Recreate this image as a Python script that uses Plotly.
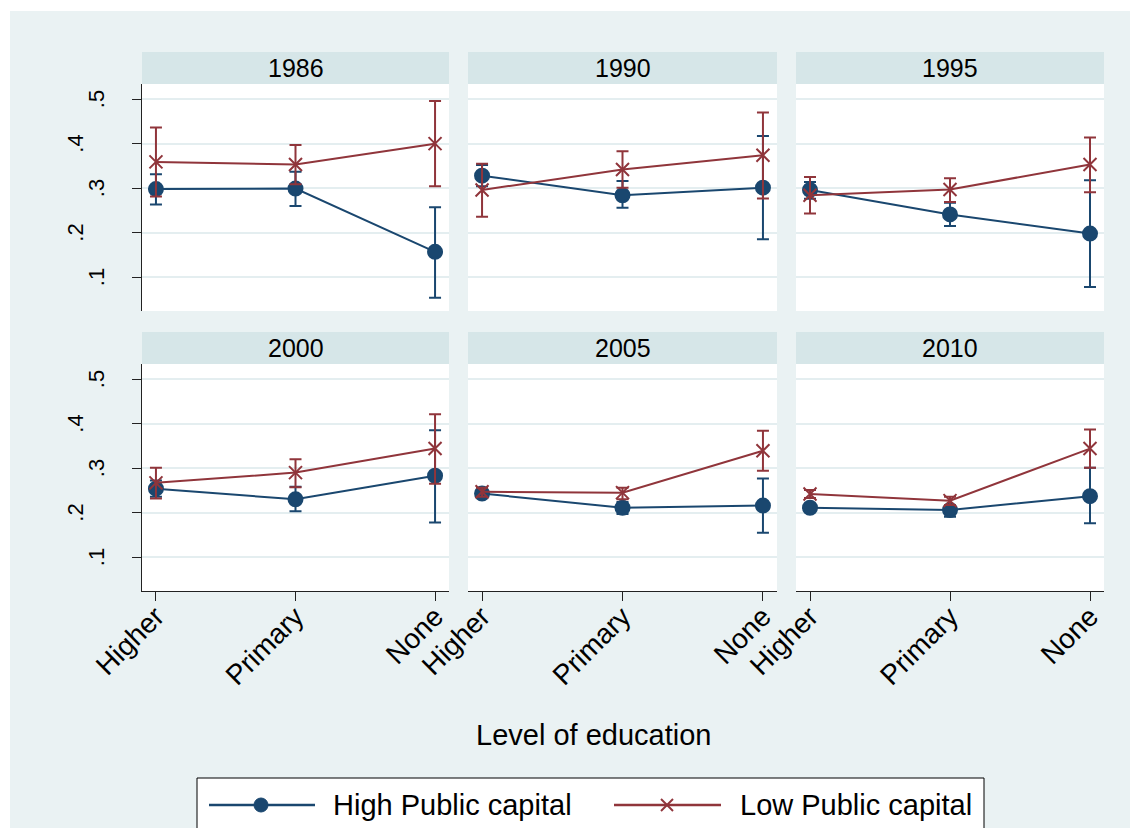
import plotly.graph_objects as go

# ---------------- data ----------------
years = ["1986", "1990", "1995", "2000", "2005", "2010"]
education = ["Higher", "Primary", "None"]
x_pos = [0, 1, 2]

high_mean = [[0.298, 0.299, 0.157], [0.328, 0.284, 0.301], [0.296, 0.241, 0.198],
             [0.254, 0.230, 0.283], [0.243, 0.211, 0.216], [0.211, 0.206, 0.237]]
high_lo = [[0.263, 0.260, 0.054], [0.304, 0.256, 0.185], [0.276, 0.215, 0.078],
           [0.236, 0.203, 0.178], [0.234, 0.197, 0.155], [0.202, 0.191, 0.176]]
high_hi = [[0.331, 0.337, 0.257], [0.352, 0.316, 0.417], [0.314, 0.267, 0.318],
           [0.272, 0.258, 0.385], [0.251, 0.224, 0.277], [0.218, 0.215, 0.301]]

low_mean = [[0.359, 0.353, 0.400], [0.296, 0.342, 0.374], [0.284, 0.297, 0.353],
            [0.267, 0.290, 0.344], [0.247, 0.245, 0.339], [0.242, 0.227, 0.344]]
low_lo = [[0.281, 0.309, 0.304], [0.236, 0.301, 0.277], [0.243, 0.269, 0.291],
          [0.232, 0.257, 0.265], [0.236, 0.230, 0.294], [0.233, 0.217, 0.301]]
low_hi = [[0.436, 0.397, 0.496], [0.355, 0.383, 0.470], [0.325, 0.322, 0.414],
          [0.301, 0.320, 0.421], [0.256, 0.256, 0.384], [0.251, 0.236, 0.387]]

y_ticks = [0.1, 0.2, 0.3, 0.4, 0.5]
y_tick_labels = [".1", ".2", ".3", ".4", ".5"]
series_names = ["High Public capital", "Low Public capital"]
x_title = "Level of education"

# ---------------- style ----------------
W, H = 1130, 828
NAVY = "#1A476F"
MAROON = "#90353B"
BG = "#EAF2F3"
STRIP = "#D6E6E8"
GRID = "#E4EEF0"
AXIS = "#222222"
FONT = "Liberation Sans, Arial, sans-serif"

def px_x(p):
    return p / W

def px_y(p):
    return 1 - p / H

col_px = [(142, 449), (468, 777), (796, 1104)]
row_px = [(84, 311), (364, 591)]
strip_px = [(52, 84), (332, 364)]

fig = go.Figure()
layout = dict(
    width=W, height=H, autosize=False,
    margin=dict(l=0, r=0, t=0, b=0, pad=0),
    paper_bgcolor=BG, plot_bgcolor="white",
    showlegend=False,
    font=dict(family=FONT, color="black"),
)
shapes = []
annotations = []

for i, yr in enumerate(years):
    r, c = divmod(i, 3)
    k = i + 1
    xa = "x" if k == 1 else f"x{k}"
    ya = "y" if k == 1 else f"y{k}"
    xkey = "xaxis" if k == 1 else f"xaxis{k}"
    ykey = "yaxis" if k == 1 else f"yaxis{k}"

    for mean, lo, hi, color, sym, name in [
        (high_mean[i], high_lo[i], high_hi[i], NAVY, "circle", series_names[0]),
        (low_mean[i], low_lo[i], low_hi[i], MAROON, "x-thin-open", series_names[1]),
    ]:
        fig.add_trace(go.Scatter(
            x=x_pos, y=mean, xaxis=xa, yaxis=ya, name=name,
            mode="lines+markers",
            line=dict(color=color, width=2),
            marker=dict(symbol=sym, size=14 if sym == "circle" else 13, color=color,
                        line=dict(color=color, width=2)),
            error_y=dict(type="data", symmetric=False,
                         array=[h - m for h, m in zip(hi, mean)],
                         arrayminus=[m - l for m, l in zip(mean, lo)],
                         color=color, thickness=2, width=6),
        ))

    x0, x1 = col_px[c]
    y0, y1 = row_px[r]
    bottom = (r == 1)
    left = (c == 0)
    layout[xkey] = dict(
        domain=[px_x(x0), px_x(x1)], anchor=ya, range=[-0.1, 2.1], automargin=False,
        tickvals=x_pos, ticktext=education,
        showgrid=False, zeroline=False,
        showline=bottom, linecolor=AXIS, linewidth=1,
        ticks="outside" if bottom else "", ticklen=9, tickcolor=AXIS,
        showticklabels=bottom, tickangle=-45, ticklabelstandoff=-12,
        tickfont=dict(size=28, family=FONT, color="black"),
    )
    layout[ykey] = dict(
        domain=[px_y(y1), px_y(y0)], anchor=xa, range=[0.024, 0.534], automargin=False,
        tickvals=y_ticks, showticklabels=False,
        showgrid=True, gridcolor=GRID, gridwidth=2, zeroline=False,
        showline=left, linecolor=AXIS, linewidth=1,
        ticks="outside" if left else "", ticklen=9, tickcolor=AXIS,
    )

    # strip header
    s0, s1 = strip_px[r]
    shapes.append(dict(type="rect", xref="paper", yref="paper",
                       x0=px_x(x0), x1=px_x(x1), y0=px_y(s1), y1=px_y(s0),
                       fillcolor=STRIP, line=dict(width=0), layer="below"))
    annotations.append(dict(text=yr, xref="paper", yref="paper",
                            x=px_x((x0 + x1) / 2), y=px_y((s0 + s1) / 2),
                            showarrow=False, font=dict(size=25, family=FONT, color="black"),
                            xanchor="center", yanchor="middle"))

    # staggered y tick labels (left column only)
    if left:
        for j, (tv, tl) in enumerate(zip(y_ticks, y_tick_labels)):
            annotations.append(dict(text=tl, xref="paper", yref=ya, x=px_x(96 if j % 2 == 0 else 76),
                                    y=tv, showarrow=False, textangle=-90,
                                    font=dict(size=22, family=FONT, color="black"),
                                    xanchor="center", yanchor="middle"))

# white border strips (top and left)
shapes.append(dict(type="rect", xref="paper", yref="paper", x0=0, x1=1, y0=px_y(11), y1=1,
                   fillcolor="white", line=dict(width=0), layer="below"))
shapes.append(dict(type="rect", xref="paper", yref="paper", x0=0, x1=px_x(10), y0=0, y1=1,
                   fillcolor="white", line=dict(width=0), layer="below"))

# x axis title
annotations.append(dict(text=x_title, xref="paper", yref="paper", x=px_x(593), y=px_y(735),
                        showarrow=False, font=dict(size=29, family=FONT, color="black"),
                        xanchor="center", yanchor="middle"))

# legend (drawn manually)
ly = 805
shapes.append(dict(type="rect", xref="paper", yref="paper",
                   x0=px_x(197), x1=px_x(984), y0=px_y(845), y1=px_y(778),
                   fillcolor="white", line=dict(color="black", width=1)))
shapes.append(dict(type="line", xref="paper", yref="paper",
                   x0=px_x(209), x1=px_x(315), y0=px_y(ly), y1=px_y(ly),
                   line=dict(color=NAVY, width=2.5)))
shapes.append(dict(type="circle", xref="paper", yref="paper",
                   x0=px_x(254), x1=px_x(268), y0=px_y(ly + 7), y1=px_y(ly - 7),
                   fillcolor=NAVY, line=dict(color=NAVY, width=1)))
shapes.append(dict(type="line", xref="paper", yref="paper",
                   x0=px_x(614), x1=px_x(721), y0=px_y(ly), y1=px_y(ly),
                   line=dict(color=MAROON, width=2.5)))
shapes.append(dict(type="line", xref="paper", yref="paper",
                   x0=px_x(661), x1=px_x(673), y0=px_y(ly - 6), y1=px_y(ly + 6),
                   line=dict(color=MAROON, width=2)))
shapes.append(dict(type="line", xref="paper", yref="paper",
                   x0=px_x(661), x1=px_x(673), y0=px_y(ly + 6), y1=px_y(ly - 6),
                   line=dict(color=MAROON, width=2)))
annotations.append(dict(text=series_names[0], xref="paper", yref="paper", x=px_x(331), y=px_y(ly),
                        showarrow=False, font=dict(size=29, family=FONT, color="black"),
                        xanchor="left", yanchor="middle"))
annotations.append(dict(text=series_names[1], xref="paper", yref="paper", x=px_x(738), y=px_y(ly),
                        showarrow=False, font=dict(size=29, family=FONT, color="black"),
                        xanchor="left", yanchor="middle"))

layout["shapes"] = shapes
layout["annotations"] = annotations
fig.update_layout(**layout)
fig.write_html("out.html")
